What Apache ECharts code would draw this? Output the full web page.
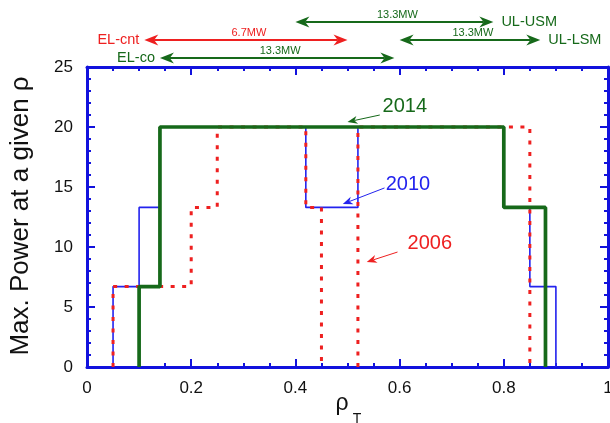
<!DOCTYPE html>
<html><head><meta charset="utf-8">
<script src="https://cdn.jsdelivr.net/npm/echarts@6/dist/echarts.min.js"></script>
<style>html,body{margin:0;padding:0;background:#fff}#c{width:610px;height:423px}</style>
</head><body><div id="c"></div>
<script>
// ---- data ----
const xTickValues = [0, 0.2, 0.4, 0.6, 0.8, 1];
const yTickValues = [0, 5, 10, 15, 20, 25];
// step profiles: edges along rho_T and power level (MW) between consecutive edges
const edges2014 = [0.1, 0.14, 0.8, 0.88];
const levels2014 = [6.7, 20, 13.3];
const edges2010 = [0.05, 0.1, 0.14, 0.42, 0.52, 0.8, 0.85, 0.9];
const levels2010 = [6.7, 13.3, 20, 13.3, 20, 13.3, 6.7];
const edges2006a = [0.05, 0.2, 0.25, 0.42, 0.45];
const levels2006a = [6.7, 13.3, 20, 13.3];
const edges2006b = [0.52, 0.85];
const levels2006b = [20];
// launcher ranges shown above the plot
const rangeNames = ['UL-USM', 'EL-cnt', 'UL-LSM', 'EL-co'];
const rangeFrom = [0.4, 0.11, 0.6, 0.14];
const rangeTo = [0.78, 0.5, 0.87, 0.59];
const rangePower = ['13.3MW', '6.7MW', '13.3MW', '13.3MW'];
const seriesNames = ['2014', '2010', '2006'];

// ---- styles ----
const BLUE = '#1212dd', GREEN = '#16691a', RED = '#ee2020', LBLUE = '#2323ee';
const FONT = 'Liberation Sans, Arial, Helvetica, sans-serif';

function profile(e, l) {
  const p = [[e[0], 0]];
  for (let i = 0; i < l.length; i++) { p.push([e[i], l[i]]); p.push([e[i + 1], l[i]]); }
  p.push([e[e.length - 1], 0]);
  return p;
}

const chart = echarts.init(document.getElementById('c'), null, {renderer: 'canvas'});

function xAx(pos, labels) {
  return {
    type: 'value', min: 0, max: 1, interval: 0.2, position: pos,
    axisLine: {show: true, onZero: false, lineStyle: {color: BLUE, width: 3}},
    axisTick: {show: true, inside: true, length: 8, lineStyle: {color: BLUE, width: 2}},
    minorTick: {show: true, splitNumber: 4, length: 4, lineStyle: {color: BLUE, width: 2}},
    splitLine: {show: false},
    axisLabel: {show: labels, color: '#111', fontSize: 17, margin: 13, fontFamily: FONT,
      formatter: v => String(xTickValues.find(t => Math.abs(t - v) < 1e-9) ?? v)}
  };
}
function yAx(pos, labels) {
  return {
    type: 'value', min: 0, max: 25, interval: 5, position: pos,
    axisLine: {show: true, onZero: false, lineStyle: {color: BLUE, width: 3}},
    axisTick: {show: true, inside: true, length: 8, lineStyle: {color: BLUE, width: 2}},
    minorTick: {show: true, splitNumber: 5, length: 4, lineStyle: {color: BLUE, width: 2}},
    splitLine: {show: false},
    axisLabel: {show: labels, color: '#111', fontSize: 17, margin: 14, fontFamily: FONT,
      formatter: v => String(yTickValues.find(t => Math.abs(t - v) < 1e-9) ?? v)}
  };
}

const DOT = {color: RED, width: 3, type: [4, 7.5], cap: 'butt'};
const option = {
  animation: false,
  backgroundColor: '#fff',
  grid: {left: 87, top: 67, right: 2, bottom: 56, containLabel: false, outerBoundsMode: 'none'},
  xAxis: [xAx('bottom', true), xAx('top', false)],
  yAxis: [yAx('left', true), yAx('right', false)],
  series: [
    {name: seriesNames[1], type: 'line', symbol: 'none', clip: false, z: 2,
      data: profile(edges2010, levels2010), lineStyle: {color: LBLUE, width: 1.6}},
    {name: seriesNames[2], type: 'line', symbol: 'none', clip: false, z: 3,
      data: profile(edges2006a, levels2006a), lineStyle: DOT},
    {name: seriesNames[2] + 'b', type: 'line', symbol: 'none', clip: false, z: 3,
      data: profile(edges2006b, levels2006b), lineStyle: DOT},
    {name: seriesNames[0], type: 'line', symbol: 'none', clip: false, z: 4,
      data: profile(edges2014, levels2014), lineStyle: {color: GREEN, width: 3.7}}
  ]
};
chart.setOption(option);

function px(x, y) { return chart.convertToPixel({gridIndex: 0}, [x, y]); }

function head(tx, ty, dx, dy, L, W, color) {
  const len = Math.hypot(dx, dy); const ux = dx / len, uy = dy / len; const nx = -uy, ny = ux;
  return {type: 'polygon', z: 20, silent: true,
    shape: {points: [[tx, ty], [tx - ux * L + nx * W / 2, ty - uy * L + ny * W / 2],
      [tx - ux * L * 0.7, ty - uy * L * 0.7], [tx - ux * L - nx * W / 2, ty - uy * L - ny * W / 2]]},
    style: {fill: color}};
}
function arrow(x0, y0, x1, y1, color, lw, L, W) {
  const dx = x1 - x0, dy = y1 - y0, len = Math.hypot(dx, dy);
  const ex = x1 - dx / len * L * 0.7, ey = y1 - dy / len * L * 0.7;
  return [
    {type: 'line', z: 19, silent: true, shape: {x1: x0, y1: y0, x2: ex, y2: ey}, style: {stroke: color, lineWidth: lw}},
    head(x1, y1, dx, dy, L, W, color)
  ];
}
function dblArrow(xa, xb, y, color) {
  const L = 14, W = 11;
  return [
    {type: 'line', z: 19, silent: true, shape: {x1: xa + L * 0.7, y1: y, x2: xb - L * 0.7, y2: y}, style: {stroke: color, lineWidth: 2.2}},
    head(xa, y, -1, 0, L, W, color), head(xb, y, 1, 0, L, W, color)
  ];
}
function text(x, y, s, color, size, align, extra) {
  return Object.assign({type: 'text', z: 21, silent: true, x: x, y: y,
    style: {text: s, fill: color, font: size + 'px ' + FONT, textAlign: align || 'center', textVerticalAlign: 'middle'}}, extra || {});
}

const g = [];
// top range arrows
const rangeY = [22, 40, 40, 58];
const rangeCol = [GREEN, RED, GREEN, GREEN];
const nameSide = ['right', 'left', 'right', 'left'];
for (let i = 0; i < rangeNames.length; i++) {
  const a = px(rangeFrom[i], 0)[0], b = px(rangeTo[i], 0)[0], y = rangeY[i];
  g.push(...dblArrow(a, b, y, rangeCol[i]));
  g.push(text((a + b) / 2 + 3, y - 7.5, rangePower[i], rangeCol[i], 11));
  if (nameSide[i] === 'right') g.push(text(b + 8, y, rangeNames[i], rangeCol[i], 14.5, 'left'));
  else g.push(text(a - 5, y, rangeNames[i], rangeCol[i], 14.5, 'right'));
}
// in-plot callouts (positions in data coordinates)
const callouts = [
  {s: seriesNames[0], col: GREEN, t: [0.61, 21.67], a0: [0.562, 21.0], a1: [0.5, 20.42]},
  {s: seriesNames[1], col: LBLUE, t: [0.616, 15.17], a0: [0.571, 14.92], a1: [0.491, 13.58]},
  {s: seriesNames[2], col: RED, t: [0.658, 10.33], a0: [0.596, 9.58], a1: [0.537, 8.75]}
];
callouts.forEach(c => {
  const t = px(c.t[0], c.t[1]), p0 = px(c.a0[0], c.a0[1]), p1 = px(c.a1[0], c.a1[1]);
  g.push(text(t[0], t[1], c.s, c.col, 20));
  g.push(...arrow(p0[0], p0[1], p1[0], p1[1], c.col, 1, 10, 8));
});
// axis titles
g.push(text(21, 216, 'Max. Power at a given ρ', '#111', 26, 'center', {rotation: Math.PI / 2}));
g.push(text(342, 404, 'ρ', '#111', 23, 'center'));
g.push(text(357, 419, 'T', '#111', 14, 'center'));

chart.setOption({graphic: g});
</script>
</body></html>
